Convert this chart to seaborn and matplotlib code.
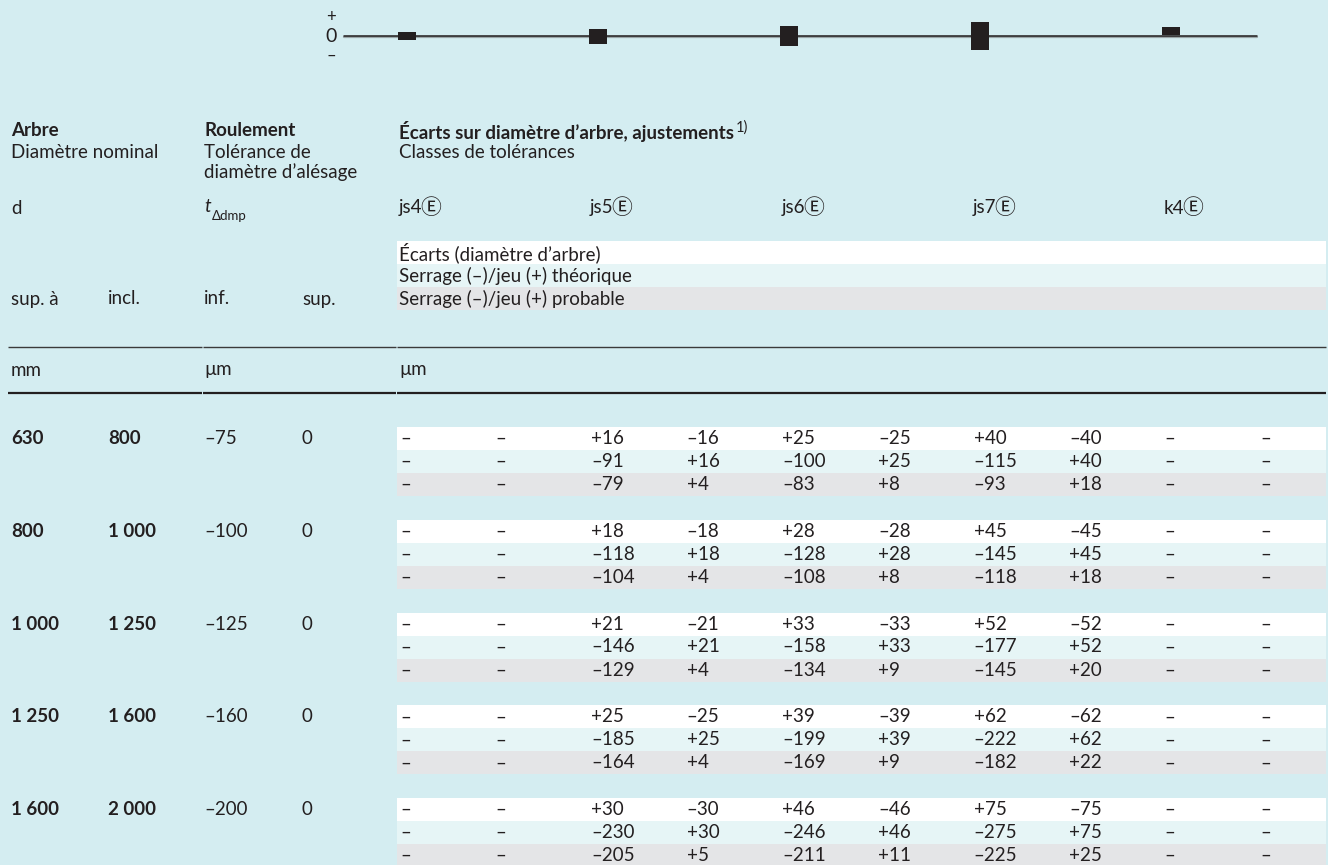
import matplotlib
matplotlib.use("Agg")
import matplotlib.pyplot as plt
import seaborn as sns

# shaft size ranges (mm) and bearing bore tolerance (µm)
size_from = ["630", "800", "1 000", "1 250", "1 600"]
size_to = ["800", "1 000", "1 250", "1 600", "2 000"]
bore_inf = [-75, -100, -125, -160, -200]
bore_sup = [0, 0, 0, 0, 0]

classes = ["js4", "js5", "js6", "js7", "k4"]
legend_rows = ["Écarts (diamètre d’arbre)",
               "Serrage (–)/jeu (+) théorique",
               "Serrage (–)/jeu (+) probable"]

# schematic tolerance zones for the sketch on top
zone_top = [4, 7.5, 10, 14, 9]
zone_bottom = [-4, -7.5, -10, -14, 1]

# per class: deviations, theoretical fit, probable fit (two values each)
js5_dev = [(16, -16), (18, -18), (21, -21), (25, -25), (30, -30)]
js5_theo = [(-91, 16), (-118, 18), (-146, 21), (-185, 25), (-230, 30)]
js5_prob = [(-79, 4), (-104, 4), (-129, 4), (-164, 4), (-205, 5)]
js6_dev = [(25, -25), (28, -28), (33, -33), (39, -39), (46, -46)]
js6_theo = [(-100, 25), (-128, 28), (-158, 33), (-199, 39), (-246, 46)]
js6_prob = [(-83, 8), (-108, 8), (-134, 9), (-169, 9), (-211, 11)]
js7_dev = [(40, -40), (45, -45), (52, -52), (62, -62), (75, -75)]
js7_theo = [(-115, 40), (-145, 45), (-177, 52), (-222, 62), (-275, 75)]
js7_prob = [(-93, 18), (-118, 18), (-145, 20), (-182, 22), (-225, 25)]

class_values = {
    "js4": None,
    "js5": (js5_dev, js5_theo, js5_prob),
    "js6": (js6_dev, js6_theo, js6_prob),
    "js7": (js7_dev, js7_theo, js7_prob),
    "k4": None,
}

BG = "#d4edf1"
INK = "#231f20"
BANDS = ["#ffffff", "#e6f5f6", "#e4e5e7"]
FS = 13.5

sns.set_theme(style="white")
plt.rcParams["font.family"] = ["Lato", "DejaVu Sans", "Noto Sans CJK SC"]


def fmt(v):
    if v is None:
        return "\u2013"
    if v == 0:
        return "0"
    return f"+{v}" if v > 0 else f"\u2013{-v}"


fig = plt.figure(figsize=(13.28, 8.65), dpi=100, facecolor=BG)

# ---- table, drawn in pixel-like coordinates
ax = fig.add_axes([0, 0, 1, 1])
ax.set_xlim(0, 1328)
ax.set_ylim(865, 0)
ax.set_axis_off()


def put(x, y, s, bold=False, size=FS, **kw):
    return ax.text(x, y, s, fontsize=size, color=INK, va="center", ha="left",
                   fontweight="bold" if bold else "normal", **kw)


col_x = [11, 108, 204, 302]
sub_x0, sub_dx = 400, 95.6
band_left, band_right = 397, 1326

# header
put(col_x[0], 131, "Arbre", bold=True)
put(col_x[0], 153, "Diamètre nominal")
put(col_x[2], 131, "Roulement", bold=True)
put(col_x[2], 153, "Tolérance de")
put(col_x[2], 172, "diamètre d’alésage")
title = put(399, 131, "Écarts sur diamètre d’arbre, ajustements", bold=True)
ax.annotate("1)", xy=(1, 1), xycoords=title, xytext=(1, 0), textcoords="offset points",
            ha="left", va="top", fontsize=10.5, color=INK)
put(399, 153, "Classes de tolérances")

put(col_x[0], 208, "d")
t = put(col_x[2], 206, "t", style="italic")
ax.annotate("\u0394dmp", xy=(1, 0), xycoords=t, xytext=(0.5, 3), textcoords="offset points",
            ha="left", va="top", fontsize=9.5, color=INK)
for i, c in enumerate(classes):
    lab = put(399 + 2 * sub_dx * i, 208, c)
    ax.annotate("\u24ba", xy=(1, 0.5), xycoords=lab, xytext=(-1.5, 0), textcoords="offset points",
                ha="left", va="center", fontsize=FS + 1.5, color=INK,
                family=["Noto Sans CJK SC", "DejaVu Sans"])

for k, lab in enumerate(legend_rows):
    yc = 241 + 23 * k + 11.5
    ax.barh(yc, band_right - band_left, left=band_left, height=23, color=BANDS[k], linewidth=0)
    put(399, yc, lab)

for x, lab in zip(col_x, ["sup. à", "incl.", "inf.", "sup."]):
    put(x, 299, lab)

# rules
for x0, x1 in [(8, 202), (203, 396), (397, 1326)]:
    ax.plot([x0, x1], [347, 347], color="#3a3a3a", lw=1.0, solid_capstyle="butt")
    ax.plot([x0, x1], [393, 393], color=INK, lw=1.6, solid_capstyle="butt")
put(col_x[0], 370, "mm")
put(col_x[2], 370, "\u00b5m")
put(399, 370, "\u00b5m")

# body
for g in range(len(size_from)):
    top = 427 + 92.75 * g
    yc0 = top + 11.5
    put(col_x[0], yc0, size_from[g], bold=True)
    put(col_x[1], yc0, size_to[g], bold=True)
    put(col_x[2], yc0, fmt(bore_inf[g]))
    put(col_x[3], yc0, fmt(bore_sup[g]))
    for k in range(3):
        yc = top + 23 * k + 11.5
        ax.barh(yc, band_right - band_left, left=band_left, height=23, color=BANDS[k], linewidth=0)
        for i, c in enumerate(classes):
            vals = class_values[c]
            pair = (None, None) if vals is None else vals[k][g]
            for j, v in enumerate(pair):
                put(sub_x0 + sub_dx * (2 * i + j), yc, fmt(v))

# ---- tolerance zone sketch on top
axd = fig.add_axes([300 / 1328, 1 - 72 / 865, 1000 / 1328, 72 / 865])
step = 2 * sub_dx - 0.1
axd.set_xlim(-107 / step, 893 / step)
axd.set_ylim(-36, 36)
axd.set_axis_off()
axd.patch.set_alpha(0)
x_end = (1257 - 407) / step
x_start = (344 - 407) / step
axd.plot([x_start, x_end], [-0.6, -0.6], color="#9aa6a8", lw=1.6)
axd.plot([x_start, x_end], [0, 0], color=INK, lw=1.1)
axd.bar(range(len(classes)), [a - b for a, b in zip(zone_top, zone_bottom)],
        bottom=zone_bottom, width=18 / step, color=INK, linewidth=0, zorder=3)
lx = (331 - 407) / step
axd.text(lx, 19, "+", fontsize=12, color=INK, ha="center", va="center")
axd.text(lx, -1, "0", fontsize=14, color=INK, ha="center", va="center")
axd.text(lx, -20, "\u2013", fontsize=12, color=INK, ha="center", va="center")

fig.savefig("out.png", dpi=100, facecolor=BG)
